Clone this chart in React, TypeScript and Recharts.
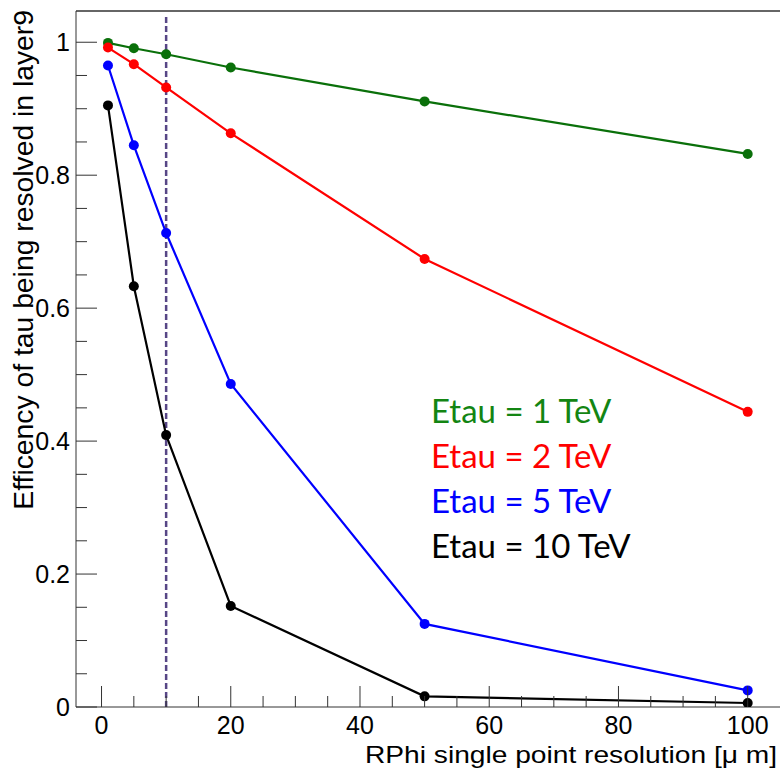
import { LineChart, Line, XAxis, YAxis, ReferenceLine } from 'recharts';

// resolution points [um]
const resolution = [1, 5, 10, 20, 50, 100];

// efficiency per tau energy
const eff1TeV = [0.999, 0.991, 0.982, 0.962, 0.911, 0.832];
const eff2TeV = [0.992, 0.967, 0.932, 0.863, 0.674, 0.444];
const eff5TeV = [0.965, 0.845, 0.713, 0.486, 0.125, 0.025];
const eff10TeV = [0.905, 0.633, 0.409, 0.152, 0.016, 0.006];

const seriesNames = ['Etau = 1 TeV', 'Etau = 2 TeV', 'Etau = 5 TeV', 'Etau = 10 TeV'];
const seriesKeys = ['e1', 'e2', 'e5', 'e10'];
const lineColors = ['#0a700a', '#ff0000', '#0000ff', '#000000'];
const textColors = ['#138513', '#ff0000', '#0000ff', '#000000'];

const xTicks = [0, 5, 10, 15, 20, 25, 30, 35, 40, 45, 50, 55, 60, 65, 70, 75, 80, 85, 90, 95, 100];
const yTicks = [0, 0.05, 0.1, 0.15, 0.2, 0.25, 0.3, 0.35, 0.4, 0.45, 0.5, 0.55, 0.6, 0.65, 0.7, 0.75, 0.8, 0.85, 0.9, 0.95, 1];

const X_MIN = -3.95;
const X_MAX = 105;
const Y_MAX = 1.047;
const CUT_X = 10; // chosen resolution marker

const AXIS = '#333333';
const FONT = '"Liberation Sans", Arial, Helvetica, sans-serif';

const data = resolution.map((x, i) => ({
    x,
    e1: eff1TeV[i],
    e2: eff2TeV[i],
    e5: eff5TeV[i],
    e10: eff10TeV[i],
}));

const isMajor = (v: number, step: number) => Math.abs(v / step - Math.round(v / step)) < 1e-6;

const YTick = ({ x, y, payload }: any) => {
    const v = payload.value as number;
    const major = isMajor(v, 0.2);
    return (
        <g>
            <line x1={x} x2={x + (major ? 21 : 11)} y1={y} y2={y} stroke={AXIS} strokeWidth={1} />
            {major && (
                <text x={x - 6} y={y} textAnchor="end" dominantBaseline="central" fontFamily={FONT} fontSize={25} fill="#000">
                    {Number(v.toFixed(1)).toString()}
                </text>
            )}
        </g>
    );
};

const XTick = ({ x, y, payload }: any) => {
    const v = payload.value as number;
    const major = isMajor(v, 20);
    return (
        <g>
            <line x1={x} x2={x} y1={y} y2={y - (major ? 21 : 11)} stroke={AXIS} strokeWidth={1} />
            {major && (
                <text x={x} y={y + 27} textAnchor="middle" fontFamily={FONT} fontSize={25} fill="#000">
                    {v}
                </text>
            )}
        </g>
    );
};

export default function App() {
    return (
        <div style={{ position: 'absolute', left: 0, top: 0, width: 780, height: 770, background: '#fff' }}>
            <LineChart width={780} height={770} data={data} margin={{ top: 11, right: 0, bottom: 0, left: 0 }}>
                <XAxis
                    type="number"
                    dataKey="x"
                    domain={[X_MIN, X_MAX]}
                    allowDataOverflow
                    ticks={xTicks}
                    interval={0}
                    tickSize={0}
                    tickMargin={0}
                    tickLine={false}
                    tick={<XTick />}
                    axisLine={{ stroke: AXIS, strokeWidth: 1 }}
                    height={63}
                />
                <YAxis
                    type="number"
                    domain={[0, Y_MAX]}
                    allowDataOverflow
                    ticks={yTicks}
                    interval={0}
                    tickSize={0}
                    tickMargin={0}
                    tickLine={false}
                    tick={<YTick />}
                    axisLine={{ stroke: AXIS, strokeWidth: 1 }}
                    width={76}
                />
                <ReferenceLine y={Y_MAX} stroke={AXIS} strokeWidth={1.5} />
                <ReferenceLine
                    segment={[{ x: CUT_X, y: 0 }, { x: CUT_X, y: 1.04 }]}
                    stroke="#574686"
                    strokeWidth={2.5}
                    strokeDasharray="6 3"
                />
                {seriesKeys.map((k, i) => (
                    <Line
                        key={k}
                        type="linear"
                        dataKey={k}
                        stroke={lineColors[i]}
                        strokeWidth={2.2}
                        dot={{ r: 5, fill: lineColors[i], stroke: lineColors[i], strokeWidth: 0 }}
                        isAnimationActive={false}
                    />
                ))}
            </LineChart>
            <svg width={780} height={770} style={{ position: 'absolute', left: 0, top: 0, pointerEvents: 'none' }}>
                <text
                    transform="translate(33,10) rotate(-90)"
                    textAnchor="end"
                    fontFamily={FONT}
                    fontSize={28.3}
                    fill="#000"
                >
                    Efficency of tau being resolved in layer9
                </text>
                <text
                    x={365}
                    y={763}
                    textLength={412}
                    lengthAdjust="spacingAndGlyphs"
                    fontFamily={FONT}
                    fontSize={24}
                    fill="#000"
                >
                    RPhi single point resolution [μ m]
                </text>
                {seriesNames.map((name, i) => (
                    <text key={name} x={431} y={423 + i * 45} fontFamily="Lato, sans-serif" fontSize={33} fill={textColors[i]}>
                        {name}
                    </text>
                ))}
            </svg>
        </div>
    );
}
